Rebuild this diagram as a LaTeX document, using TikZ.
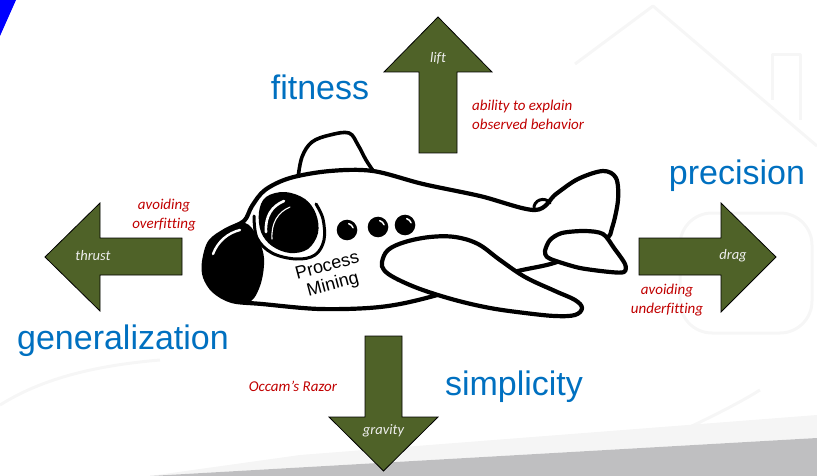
\documentclass[tikz,border=0pt]{standalone}
\usepackage{fontspec}
\setmainfont{Liberation Sans}
\newfontfamily\notefont[Ligatures=NoCommon]{Carlito}
\usetikzlibrary{calc}

\definecolor{pmblue}{HTML}{0070C0}
\definecolor{pmred}{HTML}{C00000}
\definecolor{forcegreen}{HTML}{4F6228}
\definecolor{forcetext}{HTML}{EEEEEE}
\definecolor{bandgray}{HTML}{BFBFC1}

\tikzset{
  forcearrow/.style={fill=forcegreen, draw=black, line width=0.8pt, line join=miter},
  quality/.style={text=pmblue, font=\fontsize{34}{40}\selectfont, inner sep=0pt},
  note/.style={text=pmred, font=\notefont\itshape\fontsize{15}{19.5}\selectfont, inner sep=0pt},
  force/.style={text=forcetext, font=\notefont\itshape\fontsize{14.5}{17}\selectfont, inner sep=0pt},
  hull/.style={draw=black, line width=4.2pt, line join=round, line cap=round, fill=white},
  trim/.style={draw=black, line width=3.6pt, line join=round, line cap=round},
  gleam/.style={draw=white, line cap=round},
  watermark/.style={draw=black!3.5, line width=3pt, line join=round},
  planetext/.style={rotate=15, font=\fontsize{18}{20}\selectfont, inner sep=0pt}
}

\begin{document}
\begin{tikzpicture}[x=1pt, y=-1pt]
\useasboundingbox (0,0) rectangle (817,476);

% faint background motif
\draw[watermark] (575,64) -- (653,6) -- (817,146);
\draw[watermark] (772,100) -- (772,55) -- (800,55) -- (800,120);
\draw[watermark, rounded corners=32] (680,213) rectangle (812,333);
\draw[watermark] (0,405) .. controls (40,380) and (90,366) .. (160,360);
\draw[watermark] (600,470) .. controls (660,440) and (720,415) .. (760,390);

% grey band along the bottom edge
\fill[black!4] (150,476) -- (300,455) -- (817,415) -- (817,438) -- cycle;
\fill[bandgray] (150,476) -- (817,438) -- (817,476) -- cycle;

% corner mark
\fill[blue] (0,0) -- (16,0) -- (0,36) -- cycle;

% the four forces
\draw[forcearrow] (419,153) -- (419,72) -- (384,72) -- (438,17) -- (492,72) -- (457,72) -- (457,153) -- cycle;
\draw[forcearrow] (639,238) -- (721,238) -- (721,203) -- (776,257) -- (721,312) -- (721,275) -- (639,275) -- cycle;
\draw[forcearrow] (182,238) -- (100,238) -- (100,203) -- (45,257) -- (100,311) -- (100,275) -- (182,275) -- cycle;
\draw[forcearrow] (365,336) -- (402,336) -- (402,417) -- (438,417) -- (383.5,471) -- (329,417) -- (365,417) -- cycle;

\node[force] (lift) at (438,58) {lift};
\node[force] (drag) at (733,256) {drag};
\node[force] (thrust) at (93,256) {thrust};
\node[force] (gravity) at (383.5,431) {gravity};

% quality dimensions
\node[quality] (fitness) at (320,87) {fitness};
\node[quality] (precision) at (737,176) {precision};
\node[quality] (generalization) at (123,341) {generalization};
\node[quality] (simplicity) at (514,387) {simplicity};

% explanations
\node[note, align=left, anchor=west] (explain) at (472,115) {ability to explain\\observed behavior};
\node[note, align=center] (overfit) at (164,215) {avoiding\\overfitting};
\node[note, align=center] (underfit) at (667,300) {avoiding\\underfitting};
\node[note] (occam) at (293,386) {Occam’s Razor};

% ---- the aeroplane ----
% dorsal fin
\draw[trim] plot[smooth, tension=0.6] coordinates {(298,178) (302,157) (312,142) (330,135) (349,133) (358,145) (366,160) (374,172)};
% fuselage with tail fin
\draw[hull] plot[smooth cycle, tension=0.55] coordinates {
  (204,262) (210,242) (226,230) (244,221) (252,206) (265,190) (290,178)
  (330,171) (373,171) (423,184) (480,196) (535,210) (556,194) (578,179)
  (603,171) (616,178) (618,200) (612,228) (604,240) (557,262) (510,273)
  (430,297) (380,307) (320,309) (262,304) (232,301) (214,291) (205,277)};
% small bump at the root of the tail fin
\draw[trim, line width=3pt] (534,209) .. controls (533,200) and (545,196) .. (550,203);
% wing
\draw[hull] plot[smooth cycle, tension=0.6] coordinates {
  (382,262) (388,250) (405,242) (430,237) (455,237) (478,244) (500,260)
  (525,277) (555,291) (575,300) (582,308) (575,315) (555,316) (525,313)
  (490,308) (455,300) (420,289) (395,278) (384,270)};
% tail plane
\draw[hull] plot[smooth cycle, tension=0.5] coordinates {
  (545,251) (550,240) (562,233) (585,231) (603,234) (614,248) (625,264)
  (624,272) (610,272) (580,268) (556,261) (547,257)};
% nose cone
\fill[black] plot[smooth cycle, tension=0.55] coordinates {
  (204,262) (210,242) (226,230) (245,223) (257,236) (264,258) (261,283)
  (251,301) (232,301) (214,291) (205,277)};
\draw[gleam, line width=2.4pt] (213,254) .. controls (218,241) and (228,233) .. (240,230);
% cockpit
\fill[black] plot[smooth cycle, tension=0.6] coordinates {
  (266,197) (285,192) (305,199) (316,214) (318,233) (308,249) (290,253)
  (272,246) (261,232) (259,212)};
\draw[trim, line width=3pt] plot[smooth, tension=0.6] coordinates {
  (254,216) (257,238) (272,253) (296,259) (315,255) (324,240) (323,219) (316,204)};
\draw[gleam, line width=2.6pt] (266,232) .. controls (265,216) and (272,206) .. (284,201);
\draw[gleam, line width=1.1pt] (272,239) .. controls (271,223) and (278,212) .. (290,207);
% cabin windows
\coordinate (win1) at (347,230);
\coordinate (win2) at (378,227);
\coordinate (win3) at (405,225);
\foreach \w in {win1,win2,win3}{
  \fill[black] (\w) circle (10.3);
  \draw[gleam, line width=1.5pt, shift={(\w)}] (-75:6.5) arc[start angle=-75, end angle=-20, radius=6.5];
}
\node[planetext] (pmtop) at (327,265) {Process};
\node[planetext] (pmbottom) at (333,285) {Mining};

\end{tikzpicture}
\end{document}
